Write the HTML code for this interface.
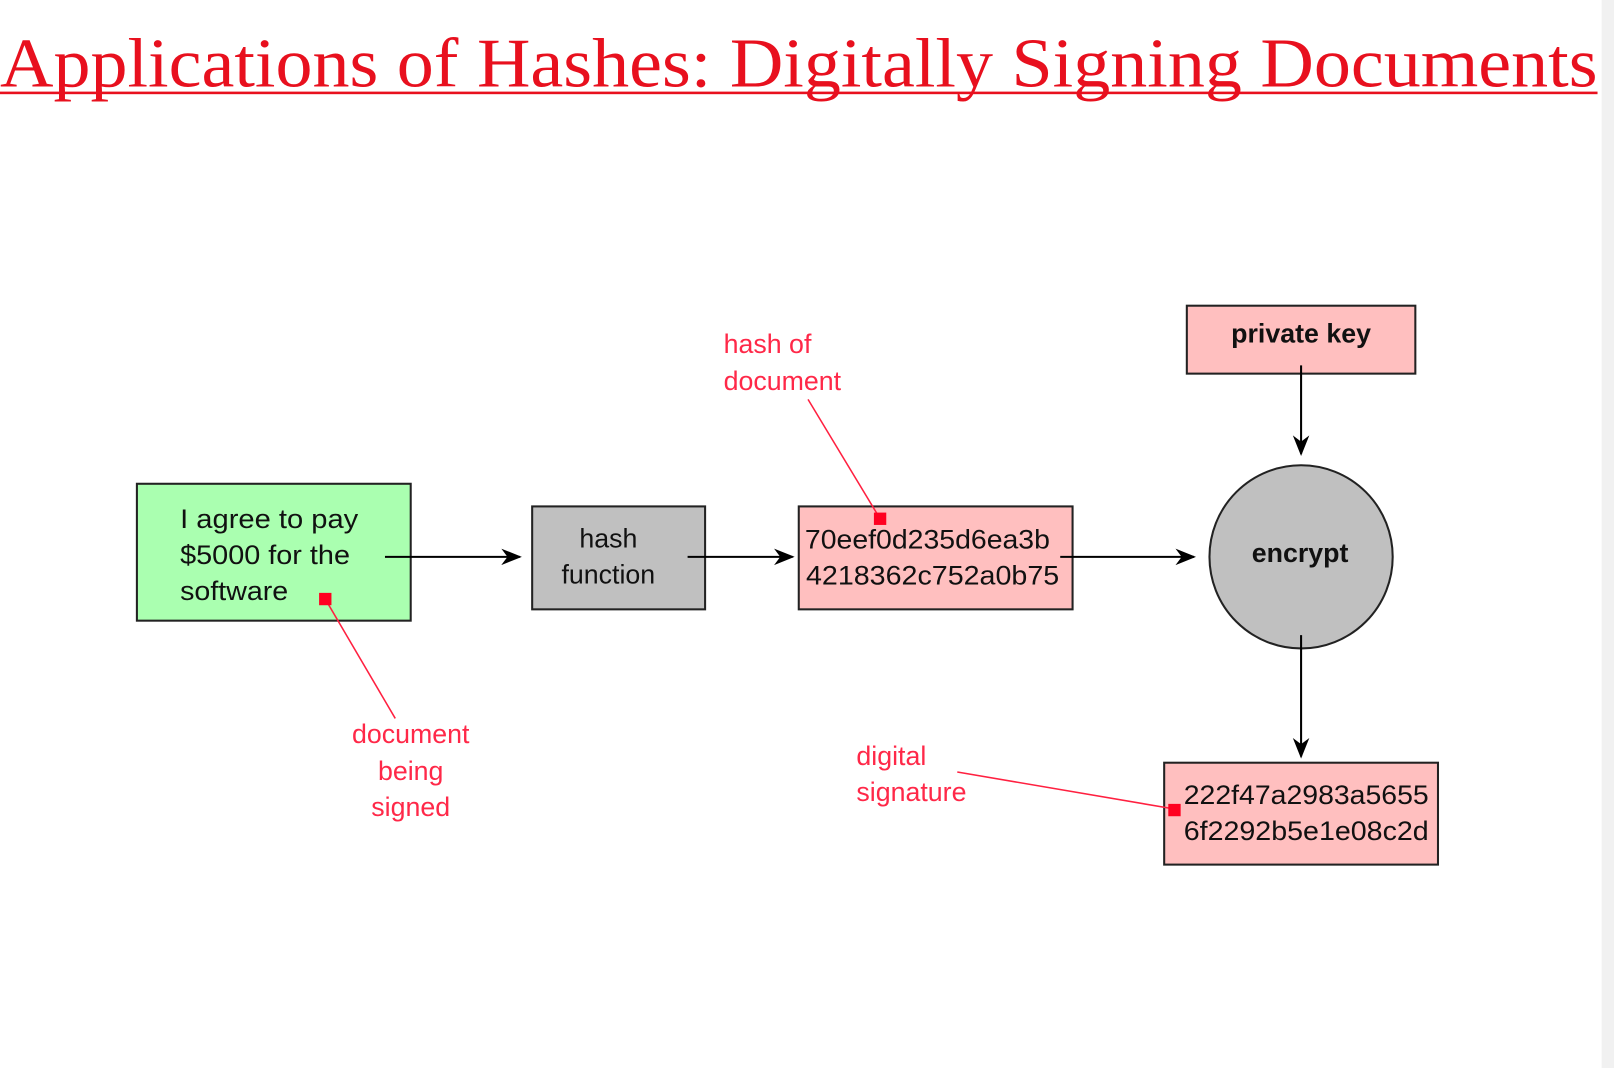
<!DOCTYPE html>
<html><head><meta charset="utf-8"><style>
html,body{margin:0;padding:0;background:#fff;width:1614px;height:1068px;overflow:hidden}
svg{display:block}
text{font-family:"Liberation Sans",sans-serif}
</style></head><body>
<svg width="1614" height="1068" viewBox="0 0 1568 1037.6" preserveAspectRatio="none" xmlns="http://www.w3.org/2000/svg">
<defs>
<marker id="ah" viewBox="0 0 20 20" refX="18" refY="10" markerWidth="20" markerHeight="20" markerUnits="userSpaceOnUse" orient="auto">
<path d="M0,2 L20,10 L0,18 L6,10 Z" fill="#000"/>
</marker>
</defs>
<rect x="1556" y="0" width="12" height="1038" fill="#f1f1f1"/>
<text x="0" y="84" font-family="Liberation Serif,serif" font-size="68" fill="#e8101e" textLength="1552" lengthAdjust="spacingAndGlyphs" style="font-family:'Liberation Serif',serif">Applications of Hashes: Digitally Signing Documents</text>
<rect x="0" y="89" width="1552" height="2.5" fill="#e8101e"/>

<!-- green doc -->
<rect x="133" y="470" width="266" height="133" fill="#aaffb0" stroke="#222" stroke-width="2"/>
<g font-size="26" fill="#111">
<text x="175" y="513" textLength="173" lengthAdjust="spacingAndGlyphs">I agree to pay</text>
<text x="175" y="548" textLength="165" lengthAdjust="spacingAndGlyphs">$5000 for the</text>
<text x="175" y="583" textLength="105" lengthAdjust="spacingAndGlyphs">software</text>
</g>
<line x1="316" y1="582" x2="384" y2="698" stroke="#ff2040" stroke-width="1.5"/>
<rect x="310" y="576" width="12" height="12" fill="#ff0020"/>
<g font-size="26" fill="#ff2848" text-anchor="middle">
<text x="399" y="722">document</text>
<text x="399" y="758">being</text>
<text x="399" y="793">signed</text>
</g>

<line x1="374" y1="541" x2="505" y2="541" stroke="#000" stroke-width="2" marker-end="url(#ah)"/>

<rect x="517" y="492" width="168" height="100" fill="#c0c0c0" stroke="#222" stroke-width="2"/>
<g font-size="26" fill="#111" text-anchor="middle">
<text x="591" y="532">hash</text>
<text x="591" y="567">function</text>
</g>

<line x1="668" y1="541" x2="770" y2="541" stroke="#000" stroke-width="2" marker-end="url(#ah)"/>

<rect x="776" y="492" width="266" height="100" fill="#ffbfbf" stroke="#222" stroke-width="2"/>
<g font-size="26" fill="#111">
<text x="782" y="533" textLength="238" lengthAdjust="spacingAndGlyphs">70eef0d235d6ea3b</text>
<text x="783" y="568" textLength="246" lengthAdjust="spacingAndGlyphs">4218362c752a0b75</text>
</g>
<line x1="855" y1="504" x2="785" y2="388" stroke="#ff2040" stroke-width="1.5"/>
<rect x="849" y="498" width="12" height="12" fill="#ff0020"/>
<g font-size="26" fill="#ff2848">
<text x="703" y="343">hash of</text>
<text x="703" y="379">document</text>
</g>

<line x1="1030" y1="541" x2="1160" y2="541" stroke="#000" stroke-width="2" marker-end="url(#ah)"/>

<ellipse cx="1264" cy="541" rx="89" ry="89" fill="#c0c0c0" stroke="#222" stroke-width="2"/>
<text x="1263" y="546" font-size="26" font-weight="bold" fill="#111" text-anchor="middle">encrypt</text>

<rect x="1153" y="297" width="222" height="66" fill="#ffbfbf" stroke="#222" stroke-width="2"/>
<text x="1264" y="333" font-size="26" font-weight="bold" fill="#111" text-anchor="middle">private key</text>

<line x1="1264" y1="355" x2="1264" y2="441" stroke="#000" stroke-width="2" marker-end="url(#ah)"/>
<line x1="1264" y1="617" x2="1264" y2="735" stroke="#000" stroke-width="2" marker-end="url(#ah)"/>

<rect x="1131" y="741" width="266" height="99" fill="#ffbfbf" stroke="#222" stroke-width="2"/>
<g font-size="26" fill="#111">
<text x="1150" y="781" textLength="238" lengthAdjust="spacingAndGlyphs">222f47a2983a5655</text>
<text x="1150" y="816" textLength="238" lengthAdjust="spacingAndGlyphs">6f2292b5e1e08c2d</text>
</g>
<line x1="1141" y1="786" x2="930" y2="750" stroke="#ff2040" stroke-width="1.5"/>
<rect x="1135" y="781" width="12" height="12" fill="#ff0020"/>
<g font-size="26" fill="#ff2848">
<text x="832" y="743">digital</text>
<text x="832" y="778">signature</text>
</g>
</svg>
</body></html>
